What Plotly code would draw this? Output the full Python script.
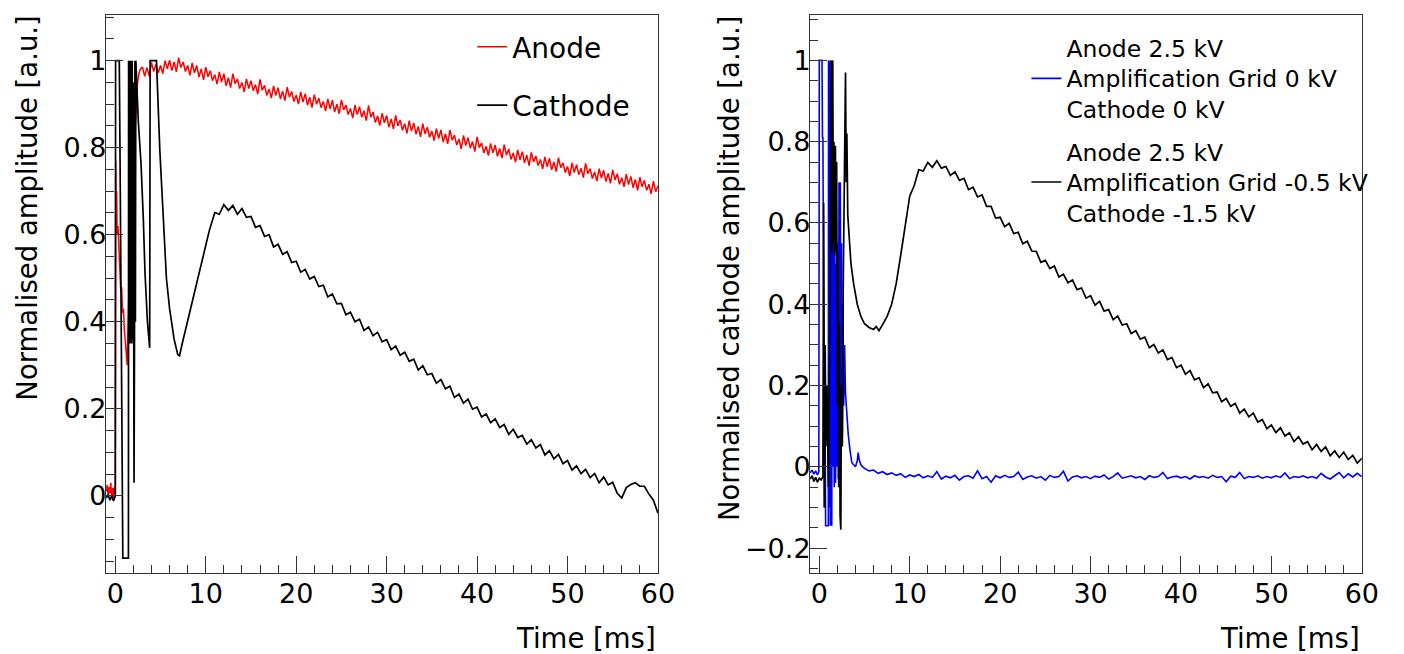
import plotly.graph_objects as go

# ---------------- data ----------------
# Left panel: anode (red) and cathode (black), time in ms
anode_early_t = [-1.0, -0.9, -0.8, -0.7, -0.6, -0.5, -0.4, -0.3, -0.2, -0.1, 0.0, 0.05, 0.1, 0.15, 0.2, 0.3,
                 0.4, 0.5, 0.6, 0.7, 0.8, 0.9, 1.0, 1.1, 1.2, 1.3, 1.4, 1.6, 1.8, 1.9, 2.0, 2.1, 2.2, 2.3,
                 2.4, 2.5, 2.6, 2.75]
anode_early_v = [0.010, 0.025, 0.000, 0.020, 0.005, 0.030, 0.000, 0.018, -0.005, 0.020, 0.005, 0.77, 0.66, 0.70,
                 0.60, 0.62, 0.55, 0.52, 0.47, 0.48, 0.42, 0.43, 0.38, 0.36, 0.33, 0.30, 0.40, 0.55, 0.66, 0.62,
                 0.72, 0.76, 0.85, 0.88, 0.94, 0.96, 0.97, 0.98]
anode_tail_t0 = 3.0
anode_tail_step = 0.25
anode_tail_v = [
    .985, .964, .984, .964, .996, .975, .992, .972, .989, .970, 1.000, .981, 1.001, .977, .997, .974,
    1.007, .984, .997, .975, .989, .966, .995, .972, .989, .962, .981, .956, .985, .963, .977, .954,
    .968, .946, .974, .951, .970, .942, .961, .938, .970, .947, .958, .936, .950, .928, .958, .936,
    .954, .931, .945, .923, .957, .932, .943, .920, .935, .914, .942, .920, .938, .912, .930, .908,
    .939, .916, .929, .906, .921, .900, .928, .905, .924, .898, .916, .892, .922, .900, .914, .892,
    .906, .884, .912, .889, .909, .882, .900, .878, .910, .887, .898, .876, .890, .868, .898, .876,
    .894, .870, .885, .862, .897, .870, .882, .858, .873, .851, .879, .857, .874, .847, .866, .843,
    .874, .850, .864, .840, .855, .833, .862, .838, .857, .831, .849, .825, .855, .832, .847, .824,
    .838, .816, .844, .821, .841, .813, .832, .809, .841, .817, .829, .806, .820, .797, .828, .805,
    .823, .799, .814, .791, .825, .800, .811, .788, .803, .782, .810, .788, .806, .780, .798, .776,
    .807, .783, .797, .773, .788, .767, .795, .772, .791, .765, .783, .759, .789, .767, .781, .759,
    .773, .751, .779, .756, .776, .749, .767, .745, .777, .754, .765, .743, .757, .735, .765, .743,
    .761, .738, .753, .731, .764, .740, .752, .729, .744, .723, .752, .730, .748, .722, .741, .718,
    .749, .726, .740, .716, .731, .710, .739, .715, .734, .708, .727, .702, .732, .710, .725, .702,
    .716, .694, .723, .699, .712]

cathode_early_t = [-1.0, -0.8, -0.6, -0.4, -0.2, -0.05, 0.0, 0.03, 0.44, 0.55, 0.62, 0.66, 0.72, 0.78, 0.83,
                   1.45, 1.47, 1.52, 1.57, 1.62, 1.67, 1.72, 1.77, 1.82, 1.87, 1.92, 1.97, 2.02, 2.07, 2.12,
                   2.17, 2.22, 2.27, 2.55, 2.84, 3.1, 3.28, 3.55, 3.75, 3.8, 3.85, 4.55, 4.92, 5.28, 5.65,
                   6.0, 6.5, 6.9, 7.1, 7.4, 7.8, 8.2, 8.7, 9.2, 9.8, 10.4]
cathode_early_v = [-0.005, 0.003, -0.010, 0.000, -0.012, -0.004, 0.0, 1.0, 1.0, 0.70, 0.45, 0.26, 0.05, -0.08,
                   -0.143, -0.143, 1.0, 0.36, 1.0, 0.35, 1.0, 0.36, 1.0, 0.35, 1.0, 0.36, 0.95, 0.35, 0.03, 0.36,
                   1.0, 0.40, 1.0, 0.857, 0.765, 0.635, 0.513, 0.40, 0.343, 0.34, 1.0, 1.0, 0.795, 0.65, 0.50,
                   0.43, 0.36, 0.325, 0.322, 0.35, 0.385, 0.42, 0.46, 0.51, 0.56, 0.61]
cathode_tail_t0 = 11.0
cathode_tail_step = 0.5
cathode_tail_v = [
    .651, .647, .669, .656, .667, .647, .660, .640, .642, .617, .621, .596, .600, .572, .578, .555,
    .561, .536, .539, .514, .520, .498, .504, .481, .484, .457, .464, .441, .442, .416, .422, .400,
    .406, .380, .388, .368, .376, .354, .359, .336, .344, .323, .330, .309, .314, .289, .299, .278,
    .281, .259, .267, .246, .252, .226, .234, .213, .222, .199, .204, .181, .188, .168, .177, .157,
    .164, .141, .153, .134, .139, .119, .129, .110, .118, .094, .104, .085, .095, .074, .081, .059,
    .069, .051, .061, .042, .051, .030, .043, .025, .031, .006, -.005, .019, .026, .030, .022, .022,
    .004, -.010, -.040]

# Right panel: cathode signal for two voltage settings
blue_early_t = [-1.0, -0.8, -0.6, -0.4, -0.2, -0.05, 0.0, 0.3, 0.35, 0.4, 0.5, 0.55, 0.62, 0.7, 1.0, 1.02,
                1.1, 1.15, 1.22, 1.3, 1.38, 1.45, 1.52, 1.6, 1.65, 1.72, 1.8, 1.88, 1.95, 2.02, 2.1, 2.18,
                2.25, 2.32, 2.4, 2.47, 2.55, 2.62, 2.7, 2.8, 2.9, 3.0, 3.2, 3.4, 3.6, 3.8, 4.0, 4.2, 4.3,
                4.4, 4.6, 4.8]
blue_early_v = [-0.015, -0.008, -0.018, -0.010, -0.020, -0.012, 1.0, 1.0, 0.81, 0.81, 0.30, -0.10, 0.20,
                -0.145, -0.145, 1.0, -0.10, 1.0, -0.145, 0.90, -0.145, 1.0, 0.0, 0.60, -0.05, 0.55, -0.04,
                0.50, 0.0, 0.55, -0.03, 0.70, 0.05, 0.70, 0.02, 0.55, 0.08, 0.40, 0.15, 0.30, 0.18, 0.14,
                0.08, 0.04, 0.01, 0.005, 0.0, 0.015, 0.035, 0.018, 0.005, 0.0]
blue_tail_t0 = 5.0
blue_tail_step = 0.5
blue_tail_v = [
    -.004, -.010, -.008, -.016, -.012, -.019, -.015, -.021, -.017, -.026, -.020, -.024, -.019, -.027,
    -.022, -.026, -.012, -.030, -.023, -.027, -.021, -.033, -.024, -.022, -.028, -.010, -.029, -.024,
    -.038, -.022, -.027, -.021, -.026, -.024, -.013, -.031, -.025, -.022, -.028, -.024, -.033, -.021,
    -.026, -.024, -.011, -.035, -.025, -.022, -.027, -.024, -.029, -.023, -.026, -.020, -.030, -.024,
    -.015, -.028, -.025, -.022, -.027, -.024, -.031, -.022, -.026, -.024, -.014, -.029, -.025, -.023,
    -.027, -.024, -.030, -.022, -.026, -.024, -.028, -.021, -.026, -.024, -.037, -.023, -.026, -.014,
    -.029, -.024, -.026, -.022, -.028, -.024, -.027, -.022, -.026, -.015, -.029, -.024, -.026, -.022,
    -.027, -.024, -.028, -.016, -.025, -.030, -.022, -.014, -.027, -.017, -.025, -.016, -.024]

black_early_t = [-1.0, -0.8, -0.6, -0.4, -0.2, 0.0, 0.2, 0.4, 0.48, 0.52, 0.58, 0.65, 0.72, 0.85, 1.0, 1.2,
                 1.3, 1.4, 1.48, 1.55, 1.62, 1.7, 1.78, 1.85, 1.92, 2.0, 2.08, 2.15, 2.22, 2.3, 2.38, 2.45,
                 2.55, 2.65, 2.75, 2.9, 2.98, 3.05, 3.15, 3.3, 3.5, 3.8, 4.2, 4.6, 5.0, 5.5, 6.0, 6.3, 6.6,
                 7.0, 7.5, 8.0, 8.5, 9.0, 9.5]
black_early_v = [-0.030, -0.022, -0.036, -0.026, -0.038, -0.028, -0.032, -0.025, 0.65, 0.48, -0.10, 0.30,
                 0.05, 0.20, -0.05, 0.40, 1.0, 0.53, 1.0, 0.55, 0.80, 0.52, 0.79, 0.53, 0.75, 0.15, 0.52,
                 -0.05, 0.35, -0.12, -0.155, 0.20, 0.05, 0.45, 0.62, 0.97, 0.70, 0.82, 0.62, 0.56, 0.50,
                 0.45, 0.40, 0.37, 0.352, 0.343, 0.338, 0.345, 0.335, 0.35, 0.37, 0.40, 0.45, 0.52, 0.59]
black_tail_t0 = 10.0
black_tail_step = 0.5
black_tail_v = [
    .666, .692, .731, .728, .749, .737, .753, .735, .739, .717, .726, .705, .710, .682, .688, .664,
    .669, .641, .641, .612, .614, .591, .599, .574, .577, .549, .555, .531, .530, .503, .508, .488,
    .494, .467, .474, .453, .460, .436, .440, .415, .421, .398, .407, .383, .387, .362, .371, .349,
    .352, .328, .335, .314, .319, .293, .301, .280, .288, .264, .269, .244, .250, .228, .237, .214,
    .219, .195, .204, .182, .184, .160, .168, .149, .156, .132, .142, .123, .132, .110, .116, .094,
    .103, .084, .096, .076, .084, .062, .074, .056, .062, .042, .055, .038, .049, .027, .039, .023,
    .036, .018, .028, .009, .021]

left_names = ["Anode", "Cathode"]
right_names = ["Anode 2.5 kV<br>Amplification Grid 0 kV<br>Cathode 0 kV",
               "Anode 2.5 kV<br>Amplification Grid -0.5 kV<br>Cathode -1.5 kV"]
x_title = "Time [ms]"
left_y_title = "Normalised amplitude [a.u.]"
right_y_title = "Normalised cathode amplitude [a.u.]"


def series(early_t, early_v, t0, step, tail_v):
    t = list(early_t) + [round(t0 + i * step, 3) for i in range(len(tail_v))]
    return t, list(early_v) + list(tail_v)


an_t, an_v = series(anode_early_t, anode_early_v, anode_tail_t0, anode_tail_step, anode_tail_v)
ca_t, ca_v = series(cathode_early_t, cathode_early_v, cathode_tail_t0, cathode_tail_step, cathode_tail_v)
bl_t, bl_v = series(blue_early_t, blue_early_v, blue_tail_t0, blue_tail_step, blue_tail_v)
bk_t, bk_v = series(black_early_t, black_early_v, black_tail_t0, black_tail_step, black_tail_v)

# ---------------- figure ----------------
W, H = 1404, 654
FONT = "DejaVu Sans"
AX = "#333333"

fig = go.Figure()
fig.add_trace(go.Scatter(x=an_t, y=an_v, mode="lines", line=dict(color="#ff0000", width=1.5),
                         name=left_names[0], legendgroup="a", xaxis="x", yaxis="y", legend="legend"))
fig.add_trace(go.Scatter(x=ca_t, y=ca_v, mode="lines", line=dict(color="#000000", width=1.7),
                         name=left_names[1], legendgroup="c", xaxis="x", yaxis="y", legend="legend"))
fig.add_trace(go.Scatter(x=bl_t, y=bl_v, mode="lines", line=dict(color="#0000ff", width=1.6),
                         name=right_names[0], legendgroup="b", xaxis="x2", yaxis="y2", legend="legend2"))
fig.add_trace(go.Scatter(x=bk_t, y=bk_v, mode="lines", line=dict(color="#000000", width=1.7),
                         name=right_names[1], legendgroup="k", xaxis="x2", yaxis="y2", legend="legend2"))


def px_x(p):
    return p / W


def px_y(p):
    return 1 - p / H


ydom = [px_y(573.3), px_y(14.5)]
common_x = dict(showgrid=False, zeroline=False, showline=True, mirror=True, linecolor=AX, linewidth=1.2,
                ticks="inside", ticklen=17, tickwidth=1.2, tickcolor=AX, dtick=10, tick0=0,
                ticklabelstandoff=-4,
                tickfont=dict(family=FONT, size=27, color="#000"),
                minor=dict(ticks="inside", ticklen=8, dtick=2, tickcolor=AX, tickwidth=1.2, showgrid=False))
common_y = dict(showgrid=False, zeroline=False, showline=True, mirror=True, linecolor=AX, linewidth=1.2,
                ticks="inside", ticklen=17, tickwidth=1.2, tickcolor=AX, dtick=0.2, tick0=0,
                ticklabelstandoff=-7,
                tickfont=dict(family=FONT, size=27, color="#000"),
                minor=dict(ticks="inside", ticklen=8, dtick=0.05, tickcolor=AX, tickwidth=1.2, showgrid=False))

fig.update_layout(
    width=W, height=H, margin=dict(l=0, r=0, t=0, b=0),
    paper_bgcolor="white", plot_bgcolor="white",
    font=dict(family=FONT, color="#000"),
    xaxis=dict(domain=[px_x(107.3), px_x(666)], range=[-1.03, 60], anchor="y", **common_x),
    yaxis=dict(domain=ydom, range=[-0.178, 1.106], anchor="x", **common_y),
    xaxis2=dict(domain=[px_x(820), px_x(1378.5)], range=[-1.02, 60], anchor="y2", **common_x),
    yaxis2=dict(domain=ydom, range=[-0.262, 1.113], anchor="x2", **common_y),
    legend=dict(x=px_x(478), y=px_y(22), xanchor="left", yanchor="top", bgcolor="rgba(0,0,0,0)",
                font=dict(family=FONT, size=28), traceorder="grouped", tracegroupgap=19),
    legend2=dict(x=px_x(1039), y=px_y(26), xanchor="left", yanchor="top", bgcolor="rgba(0,0,0,0)",
                 font=dict(family=FONT, size=23.5), traceorder="grouped", tracegroupgap=9),
    showlegend=True,
)

annots = [
    dict(text=x_title, x=px_x(666), y=px_y(638), xanchor="right", yanchor="middle"),
    dict(text=x_title, x=px_x(1378.5), y=px_y(638), xanchor="right", yanchor="middle"),
    dict(text=left_y_title, x=px_x(27), y=px_y(13), xanchor="center", yanchor="top", textangle=-90),
    dict(text=right_y_title, x=px_x(738), y=px_y(13), xanchor="center", yanchor="top", textangle=-90),
]
for a in annots:
    fig.add_annotation(xref="paper", yref="paper", showarrow=False,
                       font=dict(family=FONT, size=27.5, color="#000"), **a)

# page: no default body margin and no scrollbars, so the 1404x654 figure fills the window exactly
fig.write_html(
    "out.html",
    config={"displayModeBar": False},
    post_script=("document.documentElement.style.overflow='hidden';"
                 "document.body.style.overflow='hidden';"
                 "document.body.style.margin='0';"),
)
